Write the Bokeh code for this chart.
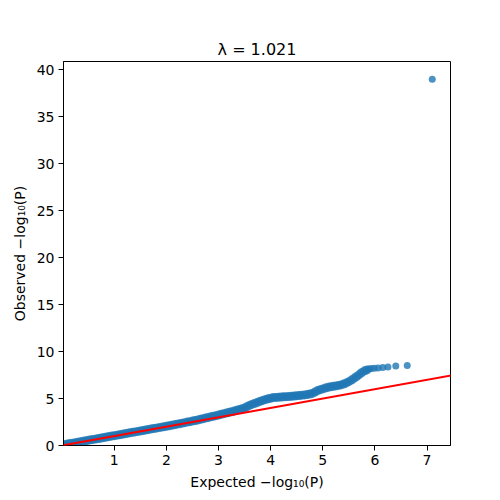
from bokeh.plotting import figure
from bokeh.models import Range1d, FixedTicker, Slope
from bokeh.embed import file_html
from bokeh.resources import INLINE

# Dense part of the QQ curve (expected vs observed -log10 P)
expected_dense = [
    0.00, 0.05, 0.10, 0.15, 0.20, 0.25, 0.30, 0.35, 0.40, 0.45,
    0.50, 0.55, 0.60, 0.65, 0.70, 0.75, 0.80, 0.85, 0.90, 0.95,
    1.00, 1.05, 1.10, 1.15, 1.20, 1.25, 1.30, 1.35, 1.40, 1.45,
    1.50, 1.55, 1.60, 1.65, 1.70, 1.75, 1.80, 1.85, 1.90, 1.95,
    2.00, 2.05, 2.10, 2.15, 2.20, 2.25, 2.30, 2.35, 2.40, 2.45,
    2.50, 2.55, 2.60, 2.65, 2.70, 2.75, 2.80, 2.85, 2.90, 2.95,
    3.00, 3.05, 3.10, 3.15, 3.20, 3.25, 3.30, 3.35, 3.40, 3.45,
    3.50, 3.55, 3.60, 3.65, 3.70, 3.75, 3.80, 3.85, 3.90, 3.95,
    4.00, 4.05, 4.10, 4.15, 4.20, 4.25, 4.30, 4.35, 4.40, 4.45,
    4.50, 4.55, 4.60, 4.65, 4.70, 4.75, 4.80, 4.85, 4.90, 4.95,
    5.00, 5.05, 5.10, 5.15, 5.20, 5.25, 5.30, 5.35, 5.40, 5.45,
    5.50, 5.55, 5.60, 5.65, 5.70, 5.75, 5.80, 5.85,
]
observed_dense = [
    0.05, 0.10, 0.15, 0.20, 0.25, 0.30, 0.35, 0.40, 0.45, 0.50,
    0.55, 0.60, 0.65, 0.70, 0.75, 0.80, 0.85, 0.90, 0.95, 1.00,
    1.05, 1.10, 1.15, 1.20, 1.25, 1.30, 1.35, 1.40, 1.45, 1.50,
    1.55, 1.60, 1.65, 1.70, 1.75, 1.80, 1.85, 1.90, 1.95, 2.00,
    2.05, 2.10, 2.16, 2.21, 2.27, 2.32, 2.38, 2.43, 2.49, 2.54,
    2.60, 2.66, 2.72, 2.79, 2.85, 2.92, 2.98, 3.05, 3.12, 3.18,
    3.25, 3.32, 3.39, 3.46, 3.53, 3.60, 3.68, 3.76, 3.84, 3.92,
    4.00, 4.15, 4.30, 4.40, 4.50, 4.60, 4.70, 4.80, 4.90, 4.97,
    5.03, 5.10, 5.12, 5.14, 5.16, 5.18, 5.20, 5.22, 5.25, 5.27,
    5.30, 5.33, 5.36, 5.39, 5.42, 5.48, 5.55, 5.70, 5.85, 5.95,
    6.03, 6.12, 6.20, 6.25, 6.30, 6.35, 6.40, 6.45, 6.55, 6.67,
    6.80, 6.97, 7.15, 7.35, 7.55, 7.78, 7.95, 8.05,
]

# Sparse tail of the QQ curve (individual points)
expected_tail = [5.88, 5.93, 5.99, 6.06, 6.15, 6.25, 6.40, 6.62, 7.10]
observed_tail = [8.15, 8.20, 8.22, 8.26, 8.30, 8.36, 8.47, 8.52, 39.0]

x_ticks = [1, 2, 3, 4, 5, 6, 7]
y_ticks = [0, 5, 10, 15, 20, 25, 30, 35, 40]

title_text = "λ = 1.021"
x_label = "Expected −log₁₀(P)"
y_label = "Observed −log₁₀(P)"

FONT = "DejaVu Sans"
BLUE = "#1f77b4"

p = figure(
    width=492, height=492,
    output_backend="svg", toolbar_location=None,
    x_range=Range1d(0.025, 7.45), y_range=Range1d(0, 40.9),
    min_border_left=63, min_border_right=42,
    min_border_top=61, min_border_bottom=47,
    title=title_text,
)

p.scatter(expected_dense, observed_dense, size=9, color=BLUE, alpha=0.8, line_color=None)
p.scatter(expected_tail, observed_tail, size=7, color=BLUE, alpha=0.8, line_color=None)

p.add_layout(Slope(gradient=1, y_intercept=0, line_color="red", line_width=2))

p.title.align = "center"
p.title.text_font = FONT
p.title.text_font_size = "16px"
p.title.text_font_style = "normal"
p.title.text_color = "black"
p.title.standoff = 6

p.grid.visible = False
p.outline_line_color = "black"
p.outline_line_alpha = 1
p.outline_line_width = 1

for ax, lab, ticks in ((p.xaxis[0], x_label, x_ticks), (p.yaxis[0], y_label, y_ticks)):
    ax.ticker = FixedTicker(ticks=ticks)
    ax.axis_label = lab
    ax.axis_label_text_font = FONT
    ax.axis_label_text_font_size = "14px"
    ax.axis_label_text_font_style = "normal"
    ax.axis_label_text_color = "black"
    ax.major_label_text_font = FONT
    ax.major_label_text_font_size = "14px"
    ax.major_label_text_color = "black"
    ax.minor_tick_line_color = None
    ax.major_tick_in = 0
    ax.major_tick_out = 5
    ax.major_tick_line_color = "black"
    ax.axis_line_color = "black"
    ax.major_label_standoff = 4
    ax.axis_label_standoff = 6

open("out.html", "w").write(file_html(p, INLINE))
